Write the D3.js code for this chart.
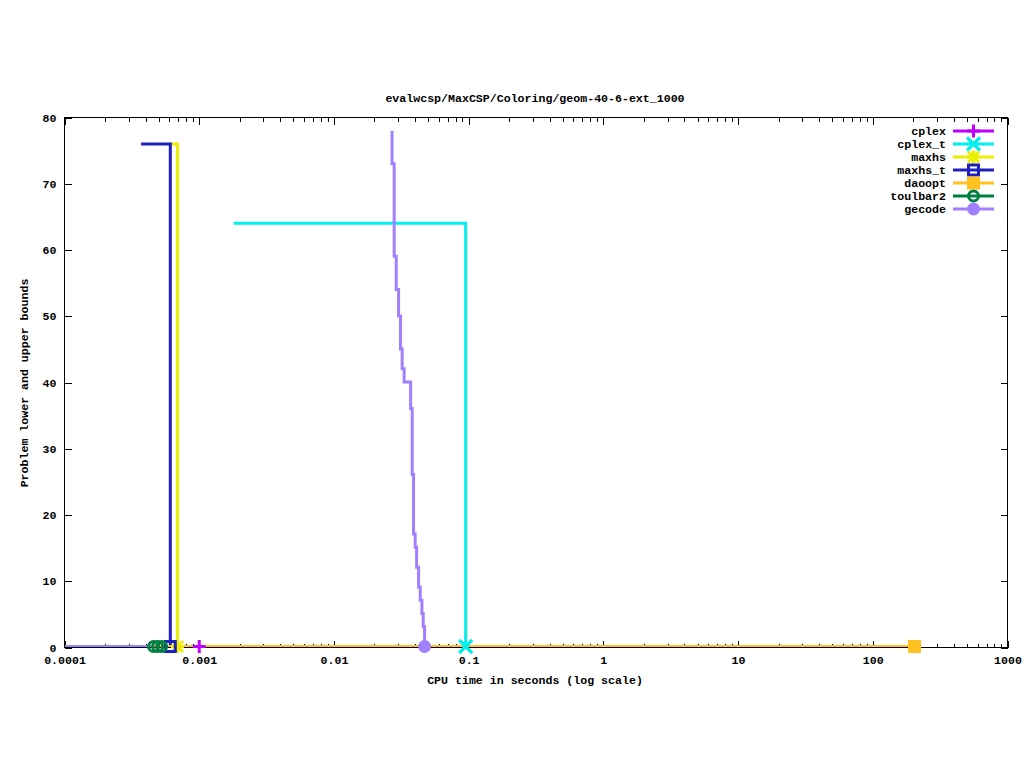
<!DOCTYPE html>
<html>
<head>
<meta charset="utf-8">
<script src="https://cdn.jsdelivr.net/npm/d3@7"></script>
<style>
  html, body { margin: 0; padding: 0; background: #fff; }
  svg { display: block; }
  text { font-family: "Liberation Mono", "DejaVu Sans Mono", monospace; font-size: 11.6px; font-weight: bold; fill: #000; }
</style>
</head>
<body>
<svg id="chart" width="1024" height="768"></svg>
<script>
// ---------------- data ----------------
const chartTitle = "evalwcsp/MaxCSP/Coloring/geom-40-6-ext_1000";
const xTitle = "CPU time in seconds (log scale)";
const yTitle = "Problem lower and upper bounds";

const xMajorTicks = [1e-4, 1e-3, 1e-2, 1e-1, 1, 10, 100, 1000];
const xTickLabels = ["0.0001", "0.001", "0.01", "0.1", "1", "10", "100", "1000"];
const yTicks = [0, 10, 20, 30, 40, 50, 60, 70, 80];

const seriesNames = ["cplex", "cplex_t", "maxhs", "maxhs_t", "daoopt", "toulbar2", "gecode"];
const seriesColors = ["#c000ff", "#00eeee", "#eeee00", "#2020c0", "#ffc020", "#008040", "#a080ff"];
const seriesSymbols = ["plus", "cross", "star", "box", "boxFilled", "circle", "circleFilled"];

const cplexTimes = [0.001];
const cplexBounds = [0];
const cplexTTimes = [0.0018, 0.095];
const cplexTBounds = [64, 0];
const maxhsTimes = [0.00061, 0.00069];
const maxhsBounds = [76, 0];
const maxhsTTimes = [0.00037, 0.00061];
const maxhsTBounds = [76, 0];
const daooptTimes = [0.00045, 204];
const daooptBounds = [0, 0];
const toulbar2Times = [0.000458, 0.000491, 0.000526];
const toulbar2Bounds = [0, 0, 0];
const gecodeTimes = [0.0270, 0.0280, 0.0290, 0.0302, 0.0312, 0.0321, 0.0332, 0.0371, 0.0381,
                     0.0390, 0.0401, 0.0411, 0.0425, 0.0437, 0.0450, 0.0460, 0.0471, 0.0471];
const gecodeBounds = [78, 73, 59, 54, 50, 45, 42, 40, 36, 26, 17, 15, 12, 9, 7, 5, 3, 0];
const gecodeLowerTimes = [0.0001, 0.00045];
const gecodeLowerBounds = [0, 0];

// ---------------- layout ----------------
const svg = d3.select("#chart");
const pLeft = 64.5, pRight = 1007.5, pTop = 117.5, pBottom = 647.5;

const x = d3.scaleLog().domain([1e-4, 1e3]).range([pLeft, pRight]);
const y = d3.scaleLinear().domain([0, 80]).range([646.5, pTop]);
const yAxisScale = d3.scaleLinear().domain([0, 80]).range([pBottom, pTop]);

const zip = (ts, bs) => ts.map((t, i) => [t, bs[i]]);

// ticks & labels
const minorTicks = x.ticks().filter(v => !xMajorTicks.some(m => Math.abs(m - v) / m < 1e-9));
const fmtX = d => xTickLabels[xMajorTicks.findIndex(m => Math.abs(m - d) / m < 1e-9)];

const gAx = svg.append("g");
gAx.append("g").attr("transform", `translate(0,${pBottom})`)
  .call(d3.axisBottom(x).tickValues(xMajorTicks).tickSizeInner(-7).tickSizeOuter(0).tickPadding(8).tickFormat(fmtX));
gAx.append("g").attr("transform", `translate(0,${pBottom})`)
  .call(d3.axisBottom(x).tickValues(minorTicks).tickSizeInner(-4).tickSizeOuter(0).tickFormat(""));
gAx.append("g").attr("transform", `translate(0,${pTop})`)
  .call(d3.axisTop(x).tickValues(xMajorTicks).tickSizeInner(-7).tickSizeOuter(0).tickFormat(""));
gAx.append("g").attr("transform", `translate(0,${pTop})`)
  .call(d3.axisTop(x).tickValues(minorTicks).tickSizeInner(-4).tickSizeOuter(0).tickFormat(""));
gAx.append("g").attr("transform", `translate(${pLeft},0)`)
  .call(d3.axisLeft(yAxisScale).tickValues(yTicks).tickSizeInner(-7).tickSizeOuter(0).tickPadding(8).tickFormat(d3.format("d")));
gAx.append("g").attr("transform", `translate(${pRight},0)`)
  .call(d3.axisRight(yAxisScale).tickValues(yTicks).tickSizeInner(-7).tickSizeOuter(0).tickFormat(""));
gAx.selectAll(".domain").remove();
gAx.selectAll(".tick line").attr("stroke", "#000").attr("shape-rendering", "crispEdges");
gAx.selectAll("text").attr("font-family", null).attr("font-size", null).attr("fill", "#000");
gAx.selectAll("g").attr("font-family", null).attr("font-size", null);

// titles
svg.append("text").attr("x", 535).attr("y", 102).attr("text-anchor", "middle").text(chartTitle);
svg.append("text").attr("x", 535).attr("y", 684).attr("text-anchor", "middle").text(xTitle);
svg.append("text").attr("transform", "translate(28,383) rotate(-90)").attr("text-anchor", "middle").text(yTitle);

// ---------------- lines ----------------
const gLines = svg.append("g").attr("fill", "none").attr("stroke-width", 3);
const draw = (data, color, curve) => {
  gLines.append("path")
    .attr("d", d3.line().x(d => x(d[0])).y(d => y(d[1])).curve(curve)(data))
    .attr("stroke", color);
};
draw(zip(cplexTTimes, cplexTBounds), seriesColors[1], d3.curveStepAfter);
draw(zip(maxhsTimes, maxhsBounds), seriesColors[2], d3.curveStepAfter);
draw(zip(maxhsTTimes, maxhsTBounds), seriesColors[3], d3.curveStepAfter);
draw(zip(toulbar2Times, toulbar2Bounds), seriesColors[5], d3.curveLinear);
draw(zip(gecodeLowerTimes, gecodeLowerBounds), seriesColors[6], d3.curveLinear);
draw(zip(gecodeTimes, gecodeBounds), seriesColors[6], d3.curveStepBefore);
draw(zip(daooptTimes, daooptBounds), seriesColors[4], d3.curveLinear);

// border
svg.append("rect").attr("x", pLeft).attr("y", pTop).attr("width", pRight - pLeft).attr("height", pBottom - pTop)
  .attr("fill", "none").attr("stroke", "#000").attr("stroke-width", 1).attr("shape-rendering", "crispEdges");

// ---------------- markers ----------------
function marker(g, sym, cx, cy, color) {
  const s = 6.5;
  const p = g.append("g").attr("transform", `translate(${cx},${cy})`);
  if (sym === "plus") p.append("path").attr("d", `M${-s},0H${s}M0,${-s}V${s}`).attr("stroke", color).attr("stroke-width", 3).attr("fill", "none");
  if (sym === "cross") p.append("path").attr("d", `M${-s},${-s}L${s},${s}M${-s},${s}L${s},${-s}`).attr("stroke", color).attr("stroke-width", 3.2).attr("fill", "none");
  if (sym === "star") p.append("path").attr("d", `M${-s},0H${s}M0,${-s}V${s}M${-s+1},${-s+1}L${s-1},${s-1}M${-s+1},${s-1}L${s-1},${-s+1}`).attr("stroke", color).attr("stroke-width", 3).attr("fill", "none");
  if (sym === "box") p.append("rect").attr("x", -s + 1.5).attr("y", -s + 1.5).attr("width", 2 * s - 3).attr("height", 2 * s - 3).attr("stroke", color).attr("stroke-width", 3).attr("fill", "none");
  if (sym === "boxFilled") p.append("rect").attr("x", -s).attr("y", -s).attr("width", 2 * s).attr("height", 2 * s).attr("fill", color);
  if (sym === "circle") p.append("circle").attr("r", s - 1.5).attr("stroke", color).attr("stroke-width", 3).attr("fill", "none");
  if (sym === "circleFilled") p.append("circle").attr("r", s).attr("fill", color);
}
const gMarks = svg.append("g");
const markerSets = [
  [zip(cplexTimes, cplexBounds).slice(-1), 0],
  [zip(cplexTTimes, cplexTBounds).slice(-1), 1],
  [zip(maxhsTimes, maxhsBounds).slice(-1), 2],
  [zip(maxhsTTimes, maxhsTBounds).slice(-1), 3],
  [zip(daooptTimes, daooptBounds).slice(-1), 4],
  [zip(toulbar2Times, toulbar2Bounds), 5],
  [zip(gecodeTimes, gecodeBounds).slice(-1), 6]
];
markerSets.forEach(([pts, i]) => pts.forEach(d => marker(gMarks, seriesSymbols[i], x(d[0]), y(d[1]), seriesColors[i])));

// ---------------- legend ----------------
const gLeg = svg.append("g");
seriesNames.forEach((name, i) => {
  const cy = 131 + i * 13;
  gLeg.append("text").attr("x", 946).attr("y", cy + 4).attr("text-anchor", "end").text(name);
  gLeg.append("line").attr("x1", 953).attr("x2", 994).attr("y1", cy).attr("y2", cy)
    .attr("stroke", seriesColors[i]).attr("stroke-width", 3);
  marker(gLeg, seriesSymbols[i], 973.5, cy, seriesColors[i]);
});
</script>
</body>
</html>
